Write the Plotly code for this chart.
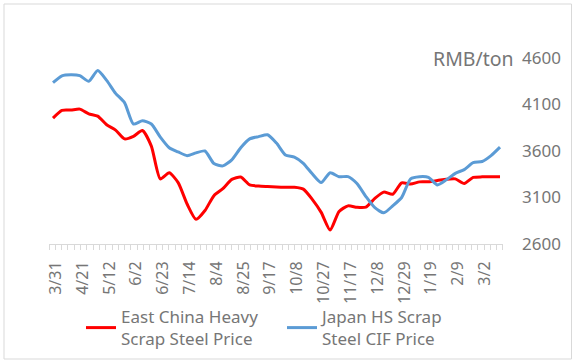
import plotly.graph_objects as go

# ---- data (weekly readings, RMB/ton) ----
tick_labels = ["3/31", "4/21", "5/12", "6/2", "6/23", "7/14", "8/4", "8/25", "9/17",
               "10/8", "10/27", "11/17", "12/8", "12/29", "1/19", "2/9", "3/2"]

east_china = [3954, 4037, 4040, 4050, 4000, 3975, 3882, 3825, 3730, 3758,
              3820, 3653, 3300, 3365, 3260, 3030, 2865, 2960, 3120, 3195,
              3295, 3320, 3235, 3223, 3218, 3213, 3210, 3209, 3190, 3080,
              2940, 2750, 2950, 3010, 2995, 2997, 3090, 3158, 3135, 3258,
              3245, 3268, 3269, 3282, 3297, 3300, 3250, 3316, 3322, 3323, 3323]

japan_hs = [4334, 4408, 4420, 4410, 4350, 4465, 4360, 4220, 4120, 3890,
            3925, 3890, 3750, 3635, 3590, 3550, 3580, 3600, 3465, 3440,
            3505, 3635, 3730, 3755, 3775, 3685, 3557, 3535, 3468, 3355,
            3260, 3366, 3323, 3325, 3250, 3110, 2990, 2935, 3010, 3100,
            3300, 3323, 3316, 3235, 3290, 3360, 3400, 3474, 3487, 3550, 3641]

weeks = list(range(len(east_china)))
label_pos = [0.3 + 3 * j for j in range(len(tick_labels))]

FONT = "Noto Sans"
GREY = "#767676"
AXIS = "#d9d9d9"

fig = go.Figure()
fig.add_trace(go.Scatter(
    x=weeks, y=east_china, mode="lines", name="East China Heavy<br>Scrap Steel Price",
    line=dict(color="#ff0000", width=3, shape="spline", smoothing=0.6)))
fig.add_trace(go.Scatter(
    x=weeks, y=japan_hs, mode="lines", name="Japan HS Scrap<br>Steel CIF Price",
    line=dict(color="#5b9bd5", width=3, shape="spline", smoothing=0.6)))

L, R, T, B = 49, 73, 58, 119
W, H = 576, 363
pw, ph = W - L - R, H - T - B

fig.update_layout(
    width=W, height=H,
    margin=dict(l=L, r=R, t=T, b=B, autoexpand=False),
    paper_bgcolor="white", plot_bgcolor="white",
    font=dict(family=FONT, size=16, color=GREY),
    showlegend=True,
    legend=dict(orientation="h", x=(81 - L) / pw, xanchor="left",
                y=(T + ph - 299) / ph, yanchor="top",
                font=dict(size=17, color=GREY),
                entrywidth=156, entrywidthmode="pixels",
                bgcolor="rgba(0,0,0,0)"),
    xaxis=dict(range=[-0.447, 50.335], showgrid=False, zeroline=False,
               showline=True, linecolor=AXIS, linewidth=1,
               tickmode="array", tickvals=label_pos, ticktext=tick_labels,
               tickangle=-90, ticks="", ticklabelstandoff=10,
               tickfont=dict(size=16, color=GREY),
               minor=dict(ticks="outside", tick0=-0.447, dtick=0.7052,
                          ticklen=5, tickcolor=AXIS, tickwidth=1, showgrid=False)),
    yaxis=dict(range=[2600, 4600], tick0=2600, dtick=500, side="right", showgrid=False,
               zeroline=False, showline=False, ticks="",
               ticklabelstandoff=18, tickfont=dict(size=17, color=GREY)),
)

fig.add_annotation(text="RMB/ton", xref="paper", yref="paper",
                   x=1 + 13 / pw, y=1, xanchor="right", yanchor="middle",
                   showarrow=False, font=dict(size=19.5, color=GREY, family=FONT))

fig.add_shape(type="rect", xref="paper", yref="paper",
              x0=(4 - L) / pw, x1=(571.5 - L) / pw,
              y0=(T + ph - 359) / ph, y1=(T + ph - 4) / ph,
              line=dict(color="#d9d9d9", width=1), fillcolor="rgba(0,0,0,0)", layer="below")

fig.write_html("out.html", config={"displayModeBar": False},
               post_script="document.body.style.margin='0';")
